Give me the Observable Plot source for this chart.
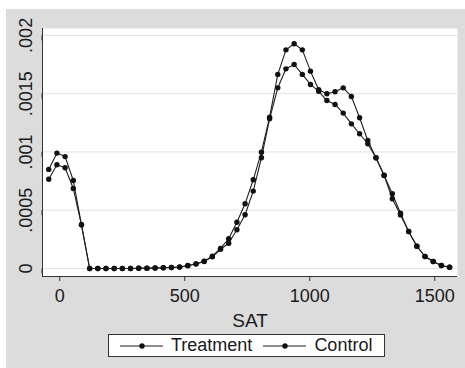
<!DOCTYPE html>
<html><head><meta charset="utf-8">
<script src="https://cdn.jsdelivr.net/npm/d3@7"></script>
<script src="https://cdn.jsdelivr.net/npm/@observablehq/plot@0.6"></script>
<style>
body{margin:0;}
#wrap{position:relative;width:465px;height:368px;background:#fff;overflow:hidden;font-family:"Liberation Sans",Arial,sans-serif;}
#bg{position:absolute;left:6px;top:9px;right:0;bottom:0;background:#dcdcdc;}
#chart{position:absolute;left:0;top:0;}
#legend{position:absolute;left:108px;top:334px;width:275px;height:21px;border:1px solid #333;background:#fff;display:flex;align-items:center;font-size:18px;color:#1a1a1a;white-space:nowrap;}
#legend .sym{display:block;}
</style></head>
<body><div id="wrap"><div id="bg"></div><div id="chart"></div><div id="legend"></div></div>
<script>
const sat = [-44, -11.3, 21.4, 54.2, 86.9, 119.6, 152.3, 185.0, 217.8, 250.5, 283.2, 315.9, 348.6, 381.4, 414.1, 446.8, 479.5, 512.2, 545.0, 577.7, 610.4, 643.1, 675.8, 708.6, 741.3, 774.0, 806.7, 839.4, 872.2, 904.9, 937.6, 970.3, 1003.0, 1035.8, 1068.5, 1101.2, 1133.9, 1166.6, 1199.4, 1232.1, 1264.8, 1297.5, 1330.2, 1363.0, 1395.7, 1428.4, 1461.1, 1493.8, 1526.6, 1559.3];
const treatment = [0.00085, 0.00099, 0.00096, 0.000755, 0.000375, 0, 0, 0, 0, 0, 0, 0.000002, 0.000003, 0.000004, 0.000006, 0.000009, 0.000013, 0.000026, 0.00004, 0.000063, 0.000105, 0.000172, 0.000255, 0.000397, 0.000555, 0.000761, 0.000998, 0.001298, 0.001665, 0.001876, 0.001928, 0.001876, 0.001693, 0.001533, 0.001499, 0.001516, 0.00155, 0.001476, 0.001293, 0.001098, 0.00095, 0.000798, 0.000641, 0.000474, 0.000317, 0.000191, 0.000103, 0.00006, 0.000026, 0.000011];
const control = [0.000766, 0.00089, 0.000864, 0.000686, 0.000375, 0, 0, 0, 0, 0, 0, 0.000002, 0.000003, 0.000004, 0.000006, 0.000009, 0.000012, 0.000024, 0.000038, 0.00006, 0.0001, 0.000165, 0.000217, 0.000332, 0.000461, 0.000664, 0.00095, 0.001284, 0.00155, 0.001713, 0.00175, 0.001665, 0.001579, 0.00152, 0.001441, 0.001407, 0.001333, 0.001241, 0.001156, 0.00107, 0.00095, 0.0008, 0.000598, 0.00046, 0.000317, 0.000191, 0.000103, 0.00006, 0.000026, 0.000011];
const seriesNames = ["Treatment", "Control"];
const xTicks = [0, 500, 1000, 1500];
const yTicks = [0, 0.0005, 0.001, 0.0015, 0.002];
const xDomain = [-69, 1591];
const yDomain = [-0.0000687, 0.002059];

const data = [];
sat.forEach((x, i) => {
  data.push({sat: x, density: treatment[i], group: seriesNames[0]});
  data.push({sat: x, density: control[i], group: seriesNames[1]});
});
const fmtY = d => d === 0 ? "0" : String(d).replace(/^0/, "");
const fmtX = d => String(d);

const chart = Plot.plot({
  width: 465, height: 368,
  marginLeft: 42, marginRight: 8, marginTop: 28, marginBottom: 92,
  style: {background: "transparent", fontFamily: "Liberation Sans, Arial, sans-serif", fontSize: "18px", color: "#1a1a1a"},
  x: {domain: xDomain},
  y: {domain: yDomain},
  marks: [
    Plot.frame({fill: "white", stroke: null}),
    Plot.gridY(yTicks, {stroke: "#e2e2e2", strokeOpacity: 1}),
    Plot.ruleY([yDomain[0]], {stroke: "#333"}),
    Plot.ruleX([xDomain[0]], {stroke: "#333"}),
    Plot.axisX(xTicks, {tickSize: 5, tickPadding: 8, fontSize: 18, label: null, stroke: "#333", tickFormat: fmtX}),
    Plot.axisY(yTicks, {tickSize: 5, tickPadding: 11, fontSize: 18, label: null, stroke: "#333", rotate: -90, textAnchor: "middle", tickFormat: fmtY}),
    Plot.line(data, {x: "sat", y: "density", z: "group", stroke: "#1f1f1f", strokeWidth: 1.1}),
    Plot.dot(data, {x: "sat", y: "density", r: 2.7, fill: "#111", stroke: null}),
    Plot.text(["SAT"], {frameAnchor: "bottom", dy: 50, fontSize: 19, fill: "#1a1a1a"})
  ]
});
document.getElementById("chart").appendChild(chart);

const legend = document.getElementById("legend");
const sym = '<svg class="sym" width="43" height="10"><line x1="0" y1="5" x2="43" y2="5" stroke="#1f1f1f" stroke-width="1.2"/><circle cx="22" cy="5" r="2.7" fill="#111"/></svg>';
legend.innerHTML =
  '<span style="width:11px"></span>' + sym + '<span style="width:8px"></span><span>' + seriesNames[0] + '</span>' +
  '<span style="width:11px"></span>' + sym + '<span style="width:8px"></span><span>' + seriesNames[1] + '</span>';
</script>
</body></html>
